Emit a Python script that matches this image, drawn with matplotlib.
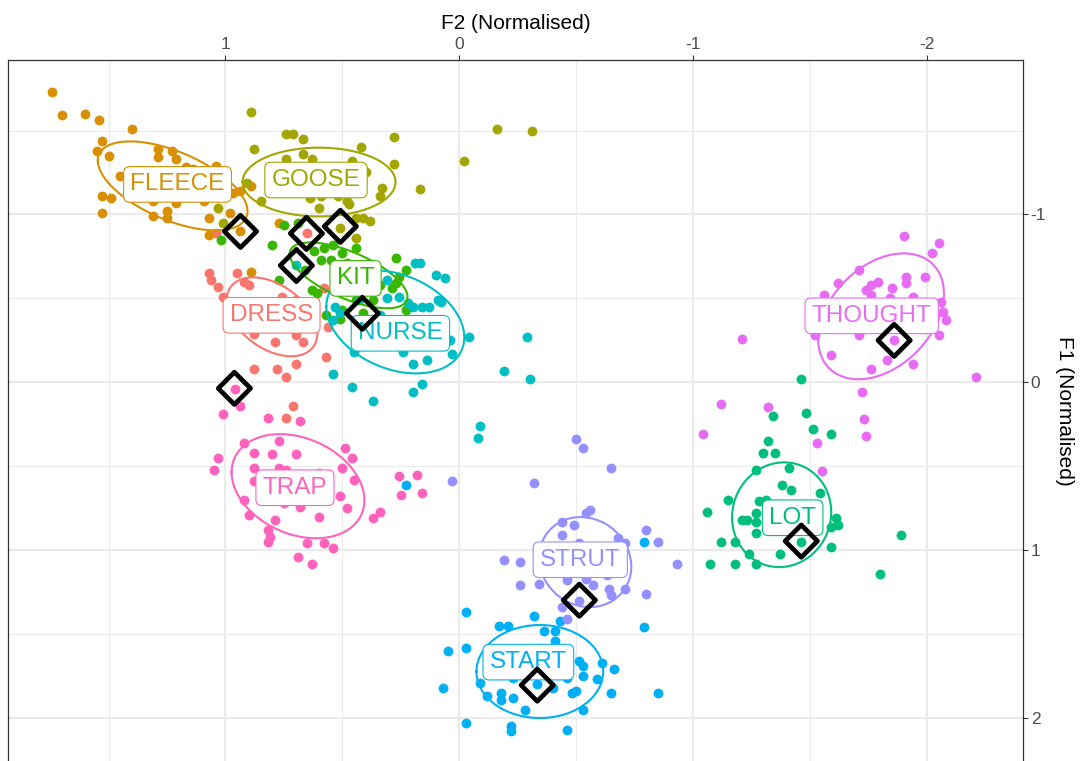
import numpy as np
import matplotlib
matplotlib.use("Agg")
import matplotlib.pyplot as plt

plt.rcParams['font.family'] = ['Liberation Sans', 'DejaVu Sans']
plt.rcParams['axes.unicode_minus'] = False

# vowel categories and ggplot hue colours
vowels = ['DRESS', 'FLEECE', 'GOOSE', 'KIT', 'LOT', 'NURSE', 'START', 'STRUT', 'THOUGHT', 'TRAP']
colours = ['#F8766D', '#D89000', '#A3A500', '#39B600', '#00BF7D',
           '#00BFC4', '#00B0F6', '#9590FF', '#E76BF3', '#FF62BC']

# token values (F2, F1), normalised
dress_f2 = [0.65, 1.07, 1.06, 1.03, 1.01, 0.95, 0.92, 0.90, 0.76, 0.70, 0.88, 0.79, 0.70, 0.67,
            0.56, 0.57, 0.70, 0.78, 0.88, 0.74, 0.58, 1.04, 0.85, 0.77, 0.92, 0.83, 0.71, 0.74]
dress_f1 = [-0.89, -0.65, -0.61, -0.57, -0.51, -0.65, -0.60, -0.58, -0.51, -0.49, -0.29, -0.24, -0.28, -0.24,
            -0.33, -0.15, -0.11, -0.08, -0.08, -0.03, -0.56, -0.89, -0.37, -0.34, -0.40, -0.46, 0.14, 0.21]

fleece_f2 = [1.74, 1.70, 1.60, 1.54, 1.40, 1.53, 1.55, 1.50, 1.29, 1.29, 1.23, 1.21, 1.17, 1.14, 1.04,
             1.53, 1.49, 1.53, 1.31, 1.25, 1.25, 1.21, 1.31, 1.07, 0.98, 0.97, 0.94, 0.89, 1.07, 0.94,
             0.77, 0.89, 1.26, 1.15, 1.37, 1.09, 1.35, 1.45]
fleece_f1 = [-1.73, -1.59, -1.60, -1.56, -1.51, -1.44, -1.38, -1.35, -1.39, -1.34, -1.38, -1.33, -1.28, -1.27, -1.29,
             -1.11, -1.10, -1.01, -0.99, -0.98, -1.02, -1.07, -1.08, -0.98, -1.01, -1.13, -1.14, -1.17, -0.88, -0.90,
             -0.95, -0.66, -1.20, -1.17, -1.26, -1.08, -1.17, -1.23]

goose_f2 = [0.89, 0.74, 0.71, 0.67, 0.88, 0.28, -0.02, -0.16, -0.31, 0.42, 0.74, 0.67, 0.63, 0.46, 0.28,
            0.40, 0.33, 0.34, 0.17, 0.64, 0.59, 0.52, 0.48, 0.47, 0.60, 0.44, 0.41, 0.38, 0.44, 1.03,
            1.01, 0.51, 0.91, 0.85, 0.77, 0.68, 0.51]
goose_f1 = [-1.61, -1.48, -1.48, -1.45, -1.39, -1.46, -1.32, -1.51, -1.50, -1.40, -1.33, -1.36, -1.33, -1.32, -1.30,
            -1.25, -1.16, -1.11, -1.15, -1.10, -1.11, -1.11, -1.08, -1.06, -1.04, -0.98, -0.98, -0.96, -0.86, -1.04,
            -0.95, -0.92, -1.19, -1.08, -1.20, -1.17, -1.23]

kit_f2 = [0.75, 1.02, 0.80, 0.62, 0.58, 0.54, 0.59, 0.55, 0.50, 0.48, 0.44, 0.27, 0.23, 0.26, 0.29, 0.27,
          0.77, 0.57, 0.51, 0.50, 0.44, 0.41, 0.37, 0.63, 0.47, 0.23, 0.69, 0.61, 0.66, 0.53, 0.41, 0.34]
kit_f1 = [-0.94, -0.85, -0.82, -0.78, -0.80, -0.82, -0.73, -0.73, -0.77, -0.71, -0.80, -0.74, -0.67, -0.63, -0.56, -0.59,
          -0.61, -0.40, -0.38, -0.43, -0.49, -0.41, -0.49, -0.55, -0.55, -0.43, -0.95, -0.53, -0.67, -0.61, -0.64, -0.58]

lot_f2 = [-1.46, -1.48, -1.34, -1.51, -1.59, -1.32, -1.30, -1.35, -1.27, -1.41, -1.38, -1.42, -1.54, -1.15,
          -1.28, -1.31, -1.06, -1.21, -1.23, -1.27, -1.27, -1.27, -1.61, -1.62, -1.59, -1.12, -1.18, -1.46,
          -1.59, -1.37, -1.24, -1.27, -1.07, -1.18, -1.89, -1.80, -1.41, -1.50]
lot_f1 = [-0.02, 0.18, 0.20, 0.28, 0.31, 0.35, 0.42, 0.42, 0.52, 0.51, 0.61, 0.64, 0.66, 0.70,
          0.71, 0.70, 0.77, 0.82, 0.82, 0.78, 0.83, 0.90, 0.81, 0.85, 0.86, 0.95, 0.95, 0.95,
          0.98, 1.02, 1.02, 1.08, 1.08, 1.08, 0.91, 1.14, 0.79, 0.82]

nurse_f2 = [0.70, 0.19, 0.17, 0.10, 0.06, 0.31, 0.26, 0.31, 0.22, 0.20, 0.16, 0.13, 0.09, 0.53, 0.51,
            0.54, 0.04, -0.04, 0.03, 0.14, 0.20, 0.45, 0.54, 0.46, 0.20, 0.16, 0.24, 0.37, -0.29, -0.19,
            -0.30, -0.09, -0.08, 0.08, 0.26, 0.17, 0.38, 0.43, 0.34]
nurse_f1 = [-0.70, -0.71, -0.71, -0.64, -0.62, -0.61, -0.51, -0.50, -0.47, -0.45, -0.45, -0.45, -0.49, -0.45, -0.41,
            -0.37, -0.25, -0.27, -0.17, -0.13, -0.11, -0.18, -0.05, 0.03, 0.06, 0.01, -0.18, 0.11, -0.27, -0.07,
            -0.02, 0.26, 0.33, -0.48, -0.29, -0.31, -0.31, -0.49, -0.40]

start_f2 = [-0.79, -0.79, -0.85, -0.03, -0.32, -0.43, -0.17, -0.21, -0.36, -0.41, -0.41, 0.05, -0.03, 0.07,
            -0.09, -0.12, -0.18, -0.18, -0.23, -0.28, -0.33, -0.40, -0.48, -0.50, -0.65, -0.53, -0.53, -0.51,
            -0.59, -0.61, -0.66, -0.53, -0.03, -0.22, -0.22, -0.46, -0.23, -0.46, -0.21, -0.30, -0.38, 0.23]
start_f1 = [0.95, 1.46, 1.85, 1.37, 1.39, 1.42, 1.45, 1.45, 1.48, 1.48, 1.54, 1.60, 1.58, 1.82,
            1.79, 1.87, 1.85, 1.89, 1.88, 1.95, 1.80, 1.82, 1.85, 1.84, 1.85, 1.75, 1.69, 1.66,
            1.77, 1.67, 1.71, 1.95, 2.03, 2.05, 2.08, 2.07, 1.76, 1.76, 1.65, 1.60, 1.63, 0.61]

strut_f2 = [-0.50, -0.53, -0.65, -0.32, 0.03, -0.56, -0.54, -0.44, -0.49, -0.44, -0.68, -0.71, -0.80, -0.85,
            -0.93, -0.19, -0.26, -0.26, -0.34, -0.46, -0.57, -0.64, -0.71, -0.65, -0.80, -0.44, -0.46, -0.51,
            -0.51, -0.46, -0.54, -0.63, -0.60, -0.43]
strut_f1 = [0.34, 0.39, 0.51, 0.60, 0.59, 0.76, 0.78, 0.83, 0.85, 0.91, 0.93, 0.96, 0.88, 0.95,
            1.08, 1.06, 1.07, 1.21, 1.20, 1.18, 1.21, 1.23, 1.23, 1.27, 1.26, 1.34, 1.41, 1.30,
            0.96, 1.16, 1.17, 1.15, 1.03, 1.06]

thought_f2 = [-1.90, -2.05, -2.02, -1.71, -1.62, -1.56, -1.91, -1.91, -1.99, -1.76, -1.79, -1.74, -1.76, -1.85,
              -1.84, -1.94, -2.06, -2.07, -2.08, -2.05, -1.52, -1.71, -1.86, -1.59, -1.83, -1.76, -1.94, -2.21,
              -1.72, -1.21, -1.12, -1.32, -1.04, -1.73, -1.74, -1.53, -1.55, -1.67, -1.79, -1.92]
thought_f1 = [-0.87, -0.83, -0.77, -0.67, -0.59, -0.52, -0.63, -0.59, -0.63, -0.58, -0.60, -0.55, -0.52, -0.56,
              -0.50, -0.51, -0.48, -0.42, -0.37, -0.28, -0.28, -0.28, -0.25, -0.16, -0.13, -0.08, -0.11, -0.03,
              0.06, -0.26, 0.13, 0.15, 0.31, 0.22, 0.32, 0.36, 0.53, -0.40, -0.38, -0.42]

trap_f2 = [0.96, 1.01, 0.94, 0.82, 0.68, 0.92, 0.77, 0.88, 0.80, 0.70, 1.03, 1.05, 0.88, 0.77, 0.74,
           0.60, 0.49, 0.46, 0.50, 0.45, 0.88, 0.51, 0.48, 0.92, 0.90, 0.79, 0.75, 0.68, 0.60, 0.82,
           0.81, 0.82, 0.65, 0.58, 0.54, 0.69, 0.63, 0.37, 0.34, 0.26, 0.18, 0.25, 0.16, 0.73, 0.64]
trap_f1 = [0.04, 0.19, 0.14, 0.21, 0.23, 0.36, 0.35, 0.42, 0.43, 0.43, 0.45, 0.52, 0.51, 0.51, 0.52,
           0.54, 0.39, 0.45, 0.51, 0.58, 0.59, 0.68, 0.75, 0.70, 0.79, 0.82, 0.72, 0.74, 0.80, 0.88,
           0.92, 0.95, 0.96, 0.96, 0.99, 1.04, 1.08, 0.81, 0.77, 0.56, 0.55, 0.67, 0.66, 0.61, 0.64]

tokens_f2 = [dress_f2, fleece_f2, goose_f2, kit_f2, lot_f2, nurse_f2, start_f2, strut_f2, thought_f2, trap_f2]
tokens_f1 = [dress_f1, fleece_f1, goose_f1, kit_f1, lot_f1, nurse_f1, start_f1, strut_f1, thought_f1, trap_f1]

# ellipse summaries: centre, spread along F2 / F1, correlation
ell_f2 = [0.801, 1.226, 0.600, 0.474, -1.378, 0.274, -0.344, -0.538, -1.803, 0.690]
ell_f1 = [-0.390, -1.170, -1.193, -0.637, 0.789, -0.360, 1.723, 1.071, -0.393, 0.619]
ell_sd2 = [0.194, 0.320, 0.327, 0.252, 0.212, 0.295, 0.271, 0.197, 0.269, 0.284]
ell_sd1 = [0.235, 0.265, 0.205, 0.196, 0.312, 0.307, 0.277, 0.268, 0.375, 0.310]
ell_rho = [-0.42, -0.57, 0.0, -0.65, 0.05, -0.30, 0.0, -0.10, 0.36, -0.27]

# label positions (vowel means)
lab_f2 = [0.803, 1.205, 0.613, 0.444, -1.425, 0.252, -0.295, -0.517, -1.763, 0.703]
lab_f1 = [-0.399, -1.179, -1.205, -0.619, 0.807, -0.292, 1.667, 1.057, -0.396, 0.628]

# highlighted speaker tokens
hl_f2 = [0.654, 0.936, 0.509, 0.415, -1.462, 0.697, -0.333, -0.513, -1.859, 0.962]
hl_f1 = [-0.887, -0.899, -0.929, -0.411, 0.946, -0.696, 1.804, 1.298, -0.250, 0.036]

fig = plt.figure(figsize=(10.8, 7.61), dpi=100)
ax = fig.add_axes([8 / 1080, 0, 1015 / 1080, 701 / 761])

for i, v in enumerate(vowels):
    ax.scatter(tokens_f2[i], tokens_f1[i], s=50, color=colours[i], linewidths=0, zorder=3)

t = np.linspace(0, 2 * np.pi, 200)
for i, v in enumerate(vowels):
    r = ell_rho[i]
    ex = ell_f2[i] + ell_sd2[i] * np.cos(t)
    ey = ell_f1[i] + ell_sd1[i] * (r * np.cos(t) + np.sqrt(1 - r ** 2) * np.sin(t))
    ax.plot(ex, ey, color=colours[i], lw=1.5, zorder=4)

for i, v in enumerate(vowels):
    ax.text(lab_f2[i], lab_f1[i], v, color=colours[i], fontsize=17.5, ha='center', va='center', zorder=5,
            bbox=dict(boxstyle='round,pad=0.28,rounding_size=0.25', fc='white', ec=colours[i], lw=0.8))

ax.scatter(hl_f2, hl_f1, marker='D', s=270, facecolors='none', edgecolors='black', linewidths=3.4, zorder=6)

ax.set_xlim(1.93, -2.41)
ax.set_ylim(2.256, -1.92)

ax.set_xticks([1, 0, -1, -2])
ax.set_xticklabels(['1', '0', '-1', '-2'])
ax.set_xticks([1.5, 0.5, -0.5, -1.5], minor=True)
ax.set_yticks([-1, 0, 1, 2])
ax.set_yticklabels(['-1', '0', '1', '2'])
ax.set_yticks([-1.5, -0.5, 0.5, 1.5], minor=True)

ax.xaxis.tick_top()
ax.xaxis.set_label_position('top')
ax.yaxis.tick_right()
ax.yaxis.set_label_position('right')

ax.grid(which='major', color='#EBEBEB', lw=1.6, zorder=0)
ax.grid(which='minor', color='#EBEBEB', lw=0.8, zorder=0)
ax.set_axisbelow(True)

ax.tick_params(which='major', length=3.5, width=0.8, color='#333333', labelsize=12.5, labelcolor='#4D4D4D', pad=2)
ax.tick_params(which='minor', length=0)

for side in ['top', 'left', 'right']:
    ax.spines[side].set_color('#333333')
    ax.spines[side].set_linewidth(0.9)
ax.spines['bottom'].set_visible(False)

ax.set_xlabel('F2 (Normalised)', fontsize=15, labelpad=6)
ax.set_ylabel('F1 (Normalised)', fontsize=15, rotation=270, labelpad=20)

fig.savefig('out.png', dpi=100)
